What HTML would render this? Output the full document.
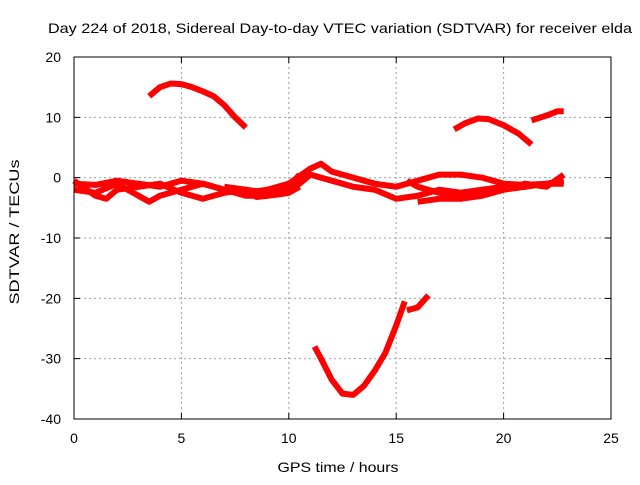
<!DOCTYPE html>
<html><head><meta charset="utf-8"><style>
body{margin:0;background:#fff}
svg text{font-family:"Liberation Sans",sans-serif;font-size:14px;fill:#000}
</style></head><body>
<svg id="chart" width="640" height="480" xmlns="http://www.w3.org/2000/svg">
<text x="340" y="33" text-anchor="middle" textLength="584" lengthAdjust="spacingAndGlyphs">Day 224 of 2018, Sidereal Day-to-day VTEC variation (SDTVAR) for receiver elda</text>
<text x="338" y="472" text-anchor="middle" textLength="121" lengthAdjust="spacingAndGlyphs">GPS time / hours</text>
<text transform="translate(19,232) rotate(-90)" text-anchor="middle" textLength="145" lengthAdjust="spacingAndGlyphs">SDTVAR / TECUs</text>
<g id="grid"></g><g id="ticks"></g><g id="series"></g>
<rect x="74" y="57" width="537" height="362" fill="none" stroke="#000" stroke-width="1"/>
</svg>
<script>
const xTicks=[0,5,10,15,20,25];
const yTicks=[20,10,0,-10,-20,-30,-40];
const arcA=[[3.5,13.5],[4,15],[4.5,15.6],[5,15.5],[5.5,15],[6,14.3],[6.5,13.5],[7,12],[7.5,10],[8,8.3]];
const arcB=[[17.7,8],[18.2,9],[18.8,9.8],[19.3,9.7],[20,8.7],[20.7,7.3],[21.3,5.5]];
const arcC=[[21.3,9.5],[22,10.3],[22.5,11],[22.8,11]];
const arcD=[[11.2,-28],[11.5,-30],[12,-33.5],[12.5,-35.8],[13,-36],[13.5,-34.5],[14,-32],[14.5,-29],[15,-24.5],[15.4,-20.5]];
const arcE=[[15.5,-22],[16,-21.5],[16.5,-19.5]];
const arcF=[[0,-1],[1,-1.2],[2,-0.5],[3,-1],[4,-1.5],[5,-0.5],[6,-1],[7,-2],[8,-2.5],[9,-2],[10,-1],[11,1.5],[11.5,2.3],[12,1],[13,0],[14,-1],[15,-1.5],[16,-0.5],[17,0.5],[18,0.5],[19,0],[20,-1],[21,-1.2],[22,-1],[22.8,-1]];
const arcG=[[0,-2],[1,-2.5],[2,-1],[3,-3],[3.5,-4],[4,-3],[5,-2],[6,-1],[7,-2],[8,-3],[9,-3],[10,-2],[10.5,-1],[11,0.5],[12,-0.5],[13,-1.5],[14,-2],[15,-3.5],[16,-3],[17,-2],[18,-2.5],[19,-2],[20,-1.5],[21,-1.5],[22,-1],[22.8,-0.5]];
const arcH=[[0,-0.5],[1,-3],[1.5,-3.5],[2,-2],[3,-1.5],[4,-1],[5,-2.5],[6,-3.5],[7,-2.5],[8,-2],[9,-2.5],[10,-1.5],[10.5,0.5]];
const arcI=[[15.5,-0.5],[16,-1.5],[17,-2.5],[18,-3.5],[19,-3],[20,-2],[21,-1],[22,-1.5],[22.8,0.5]];
const arcJ=[[16,-4],[17,-3.5],[18,-3.5],[19,-2.5],[20,-2],[21,-1.5]];
const arcK=[[7,-1.5],[8,-2],[8.5,-3.2],[9,-3],[9.5,-2.8],[10,-2.5],[10.5,-1.5]];
const arcs=[arcA,arcB,arcC,arcD,arcE,arcF,arcG,arcH,arcI,arcJ,arcK];
const X=v=>74+v*537/25, Y=v=>57+(20-v)*362/60;
const NS='http://www.w3.org/2000/svg';
const g=document.getElementById('grid'),t=document.getElementById('ticks'),s=document.getElementById('series');
function mk(p,tag,a){const e=document.createElementNS(NS,tag);for(const k in a)e.setAttribute(k,a[k]);p.appendChild(e);return e;}
xTicks.forEach(v=>{
 if(v>0&&v<25){const l=mk(g,'line',{x1:X(v),x2:X(v),y1:57,y2:419,stroke:'#a0a0a0','stroke-dasharray':'2,3'});
 
 }
 const tm=mk(t,'path',{d:`M${X(v)},419v-6M${X(v)},57v6`,stroke:'#000'});
 
 
 const tx=mk(t,'text',{x:X(v),y:443,'text-anchor':'middle'});tx.textContent=v;
 
 
});
yTicks.forEach(v=>{
 if(v<20&&v>-40){const l=mk(g,'line',{x1:74,x2:611,y1:Y(v),y2:Y(v),stroke:'#a0a0a0','stroke-dasharray':'2,3'});
 
 }
 const tm=mk(t,'path',{d:`M74,${Y(v)}h6M611,${Y(v)}h-6`,stroke:'#000'});
 
 
 const tx=mk(t,'text',{x:61,y:Y(v)+5,'text-anchor':'end'});tx.textContent=v;
 
 
});
arcs.forEach(a=>{
 const p=mk(s,'polyline',{points:a.map(d=>X(d[0])+','+Y(d[1])).join(' '),fill:'none',stroke:'#ff0000','stroke-width':6,'stroke-linejoin':'round'});
 
 
});
</script>
</body></html>
